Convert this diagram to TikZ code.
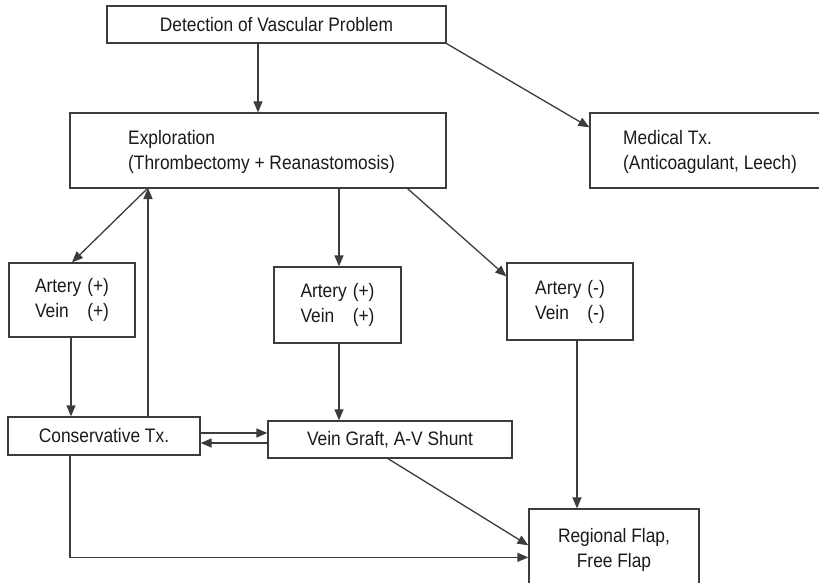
\documentclass[tikz,border=0pt]{standalone}
\usepackage{fontspec}
\setmainfont{Liberation Sans}[FakeStretch=0.89]
\usetikzlibrary{arrows.meta,calc}
\definecolor{ink}{HTML}{1A1A1A}
\definecolor{rule}{HTML}{3C3C3C}
\begin{document}
\begin{tikzpicture}[x=1pt,y=-1pt,
  font=\fontsize{19.5}{25}\selectfont, text=ink,
  bx/.style n args={2}{draw=rule, line width=1.3pt, minimum width=#1pt,
    minimum height=#2pt, inner sep=0pt, align=center},
  lbl/.style={inner sep=0pt, align=left, anchor=west},
  arr/.style={draw=rule, line width=1.3pt,
    -{Triangle[length=11pt,width=9pt]}},
  ln/.style={draw=rule, line width=1.3pt}]
\clip (0,0) rectangle (819,583);
\fill[white] (0,0) rectangle (819,583);

% boxes
\node[bx={339}{37}] (det) at (276.5,24.5) {Detection of Vascular Problem};
\node[bx={376}{75}] (exp) at (258,150.5) {};
\node[lbl] (expt) at (128,152) {Exploration\\(Thrombectomy + Reanastomosis)};
\node[bx={240}{75}] (med) at (710,150.5) {};
\node[lbl] (medt) at (623,152) {Medical Tx.\\(Anticoagulant, Leech)};

\node[bx={126}{74}] (a1) at (72,300)
  {\begin{tabular}{@{}l@{\hspace{6pt}}l@{}}Artery & (+)\\Vein & (+)\end{tabular}};
\node[bx={127}{76}] (a2) at (337.5,305)
  {\begin{tabular}{@{}l@{\hspace{6pt}}l@{}}Artery & (+)\\Vein & (+)\end{tabular}};
\node[bx={126}{77}] (a3) at (570,301.5)
  {\begin{tabular}{@{}l@{\hspace{6pt}}l@{}}Artery & (-)\\Vein & (-)\end{tabular}};

\node[bx={192}{38}] (cons) at (104,436) {Conservative Tx.};
\node[bx={244}{37}] (vg) at (390,439.5) {Vein Graft, A-V Shunt};
\node[bx={170}{82}] (flap) at (614,550) {Regional Flap,\\Free Flap};

% connectors
\coordinate (joint) at (148,188);
\draw[arr] (det.south -| exp.north) -- (exp.north);
\draw[arr] (det.south east) -- ($(med.north west)+(0,15)$);
\draw[arr] (joint) -- (a1.north);
\draw[arr] (cons.north -| joint) -- (joint);
\draw[arr] (exp.south -| 339,0) -- (a2.north -| 339,0);
\draw[arr] ($(exp.south east)+(-39,0)$) -- ($(a3.north west)+(0,14)$);
\draw[arr] (a1.south -| 71,0) -- (cons.north -| 71,0);
\draw[arr] (a2.south -| 339,0) -- (vg.north -| 339,0);
\draw[arr] ($(a3.south)+(7,0)$) -- (flap.north -| 577,0);
\draw[arr] ($(cons.east)+(0,-3)$) -- ($(vg.west)+(0,-6.5)$);
\draw[arr] ($(vg.west)+(0,3.5)$) -- ($(cons.east)+(0,7)$);
\draw[arr] ($(vg.south)+(-2,0)$) -- ($(flap.north west)+(0,37)$);
\draw[arr] ($(cons.south)+(-34,0)$) |- ($(flap.north west)+(0,49)$);
\end{tikzpicture}
\end{document}
